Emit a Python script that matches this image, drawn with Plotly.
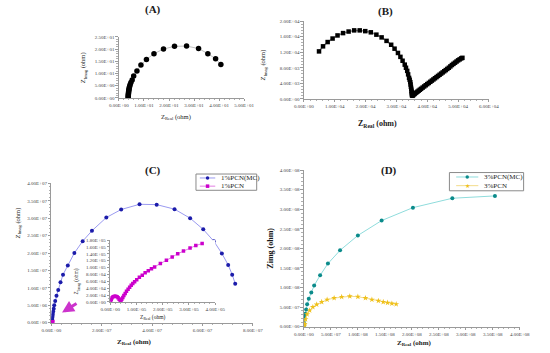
import plotly.graph_objects as go

# ---------------- data ----------------
# Panel A
a_x = [3.7, 3.72, 3.75, 3.78, 3.8, 3.85, 3.9, 3.95, 4.05, 4.15, 4.3, 4.5, 4.8,
       5.3, 5.9, 7.2, 8.8, 11.0, 14.0, 17.8, 22.2, 27.0, 31.8, 35.5, 38.6, 40.7]
a_y = [0.1, 0.5, 0.9, 1.3, 1.7, 2.1, 2.6, 3.1, 3.6, 4.2, 4.8, 5.5, 6.3,
       7.3, 9.0, 11.0, 13.5, 15.7, 18.1, 20.0, 21.1, 21.2, 20.2, 18.1, 16.0, 13.7]

# Panel B
b_x = [4900, 6200, 7700, 9300, 10900, 12700, 14500, 16300, 18100, 19900, 21700, 23500,
       25200, 26800, 28300, 29400, 30500, 31300, 32000, 32700, 33100, 33500, 33800, 34100,
       34300, 34500, 34600, 34700, 34800, 34900, 34950, 35000, 35050, 35200,
       35400, 35700, 36000, 36400, 36800, 37200, 37600, 38000, 38500, 39000, 39500, 40000,
       40500, 41000, 41500, 42000, 42500, 43000, 43500, 44000, 44500, 45000, 45500, 46000,
       46500, 47000, 47500, 48000, 48500, 49000, 49500, 50000, 50500, 51000, 51400]
b_y = [12200, 13500, 14600, 15500, 16300, 16900, 17300, 17600, 17600, 17400, 17100, 16500,
       15800, 14900, 13900, 12900, 11800, 10800, 9800, 8800, 8000, 7200, 6300, 5400,
       4900, 4300, 3700, 3100, 2600, 2100, 1700, 1200, 900, 800,
       950, 1150, 1350, 1600, 1850, 2100, 2350, 2600, 2900, 3200, 3500, 3800,
       4100, 4400, 4700, 5000, 5300, 5600, 5900, 6200, 6500, 6800, 7100, 7400,
       7700, 8000, 8350, 8700, 9000, 9300, 9600, 9900, 10150, 10400, 10550]

# Panel C : 1%PCN(MC)  (x in 1E7 ohm, y in 1E6 ohm)
c_mc_x = [0.007, 0.012, 0.018, 0.025, 0.035, 0.045, 0.055, 0.07, 0.09, 0.11, 0.15, 0.20,
          0.27, 0.36, 0.46, 0.65, 0.91, 1.24, 1.61, 2.18, 2.77, 3.50, 4.18, 4.89, 5.51,
          6.03, 6.45, 6.77, 7.02, 7.18, 7.30]
c_mc_y = [0.2, 0.4, 0.7, 1.0, 1.4, 1.9, 2.5, 3.2, 4.0, 5.0, 6.2, 7.7,
          9.4, 11.6, 13.8, 16.4, 20.0, 23.4, 26.4, 30.2, 32.5, 34.0, 33.9, 32.6, 30.0,
          26.8, 23.4, 19.9, 16.6, 13.8, 11.2]
# Panel C : 1%PCN  (x in 1E5 ohm, y in 1E4 ohm)
c_pcn_x = [0.02, 0.04, 0.07, 0.11, 0.16, 0.21, 0.26, 0.30, 0.34, 0.38, 0.41,
           0.44, 0.48, 0.52, 0.57, 0.62, 0.68, 0.74, 0.80, 0.86, 0.93, 1.01, 1.11, 1.22,
           1.33, 1.45, 1.57, 1.69, 1.91, 2.14, 2.36, 2.57, 2.79, 3.04, 3.26, 3.50]
c_pcn_y = [0.5, 0.8, 1.2, 1.5, 1.7, 1.7, 1.5, 1.2, 0.8, 0.5, 0.5,
           0.8, 1.3, 1.9, 2.5, 3.1, 3.7, 4.3, 4.9, 5.4, 5.9, 6.5, 7.2, 7.8,
           8.5, 9.1, 9.7, 10.2, 11.2, 12.1, 13.1, 14.0, 14.8, 15.7, 16.4, 17.0]

# Panel D (x, y in 1E8 ohm)
d_mc_x = [0.002, 0.005, 0.008, 0.015, 0.025, 0.042, 0.06, 0.09, 0.137, 0.19, 0.30, 0.445,
          0.67, 1.0, 1.44, 2.02, 2.75, 3.54]
d_mc_y = [0.03, 0.08, 0.15, 0.25, 0.33, 0.44, 0.57, 0.71, 0.87, 1.05, 1.31, 1.61,
          1.95, 2.33, 2.71, 3.04, 3.28, 3.34]
d_pcn_x = [0.002, 0.006, 0.012, 0.03, 0.059, 0.107, 0.166, 0.237, 0.33, 0.43, 0.56, 0.70,
           0.85, 1.0, 1.14, 1.26, 1.38, 1.47, 1.55, 1.63, 1.71]
d_pcn_y = [0.01, 0.03, 0.065, 0.19, 0.315, 0.415, 0.50, 0.565, 0.63, 0.69, 0.73, 0.76,
           0.775, 0.765, 0.73, 0.69, 0.66, 0.63, 0.61, 0.59, 0.575]

series_names_c = ["1%PCN(MC)", "1%PCN"]
series_names_d = ["3%PCN(MC)", "3%PCN"]

# tick labels
a_xticks = ["0.00E+00", "1.00E+01", "2.00E+01", "3.00E+01", "4.00E+01", "5.00E+01"]
a_yticks = ["0.00E+00", "5.00E+00", "1.00E+01", "1.50E+01", "2.00E+01", "2.50E+01"]
b_xticks = ["0.00E+00", "1.00E+04", "2.00E+04", "3.00E+04", "4.00E+04", "5.00E+04", "6.00E+04"]
b_yticks = ["0.00E+00", "4.00E+03", "8.00E+03", "1.20E+04", "1.60E+04", "2.00E+04"]
c_xticks = ["0.00E+00", "2.00E+07", "4.00E+07", "6.00E+07", "8.00E+07"]
c_yticks = ["0.00E+00", "5.00E+06", "1.00E+07", "1.50E+07", "2.00E+07", "2.50E+07",
            "3.00E+07", "3.50E+07", "4.00E+07"]
ci_xticks = ["0.00E+00", "1.00E+05", "2.00E+05", "3.00E+05", "4.00E+05"]
ci_yticks = ["0.00E+00", "2.00E+04", "4.00E+04", "6.00E+04", "8.00E+04", "1.00E+05",
             "1.20E+05", "1.40E+05", "1.60E+05", "1.80E+05"]
d_xticks = ["0.00E+00", "5.00E+07", "1.00E+08", "1.50E+08", "2.00E+08", "2.50E+08",
            "3.00E+08", "3.50E+08", "4.00E+08"]
d_yticks = ["0.00E+00", "5.00E+07", "1.00E+08", "1.50E+08", "2.00E+08", "2.50E+08",
            "3.00E+08", "3.50E+08", "4.00E+08"]

# colours
C_MC_MARK, C_MC_LINE = "#1c1caa", "#9a9af0"
C_P_MARK, C_P_LINE = "#cc00cc", "#e27fe2"
D_MC_MARK, D_MC_LINE = "#0b8b8b", "#8fdcdc"
D_P_MARK, D_P_LINE = "#efc01a", "#f3dc8a"

# ---------------- figure ----------------
W, H = 550, 353
SERIF = "Liberation Serif"


def px(x):
    return x / W


def py(y):
    return 1 - y / H


fig = go.Figure()

fig.add_trace(go.Scatter(x=a_x, y=a_y, mode="lines+markers", xaxis="x", yaxis="y",
                         line=dict(color="#b0b0b0", width=0.8),
                         marker=dict(symbol="circle", size=5.5, color="black")))
fig.add_trace(go.Scatter(x=b_x, y=b_y, mode="lines+markers", xaxis="x2", yaxis="y2",
                         line=dict(color="#808080", width=1.5),
                         marker=dict(symbol="square", size=4.5, color="black")))
fig.add_trace(go.Scatter(x=[v * 1e7 for v in c_mc_x], y=[v * 1e6 for v in c_mc_y],
                         mode="lines+markers", xaxis="x3", yaxis="y3", name=series_names_c[0],
                         line=dict(color=C_MC_LINE, width=1),
                         marker=dict(symbol="circle", size=4, color=C_MC_MARK)))
fig.add_trace(go.Scatter(x=[v * 1e5 for v in c_pcn_x], y=[v * 1e4 for v in c_pcn_y],
                         mode="lines+markers", xaxis="x3", yaxis="y3", name=series_names_c[1],
                         line=dict(color=C_P_LINE, width=1),
                         marker=dict(symbol="square", size=4, color=C_P_MARK)))
fig.add_trace(go.Scatter(x=[v * 1e5 for v in c_pcn_x], y=[v * 1e4 for v in c_pcn_y],
                         mode="lines+markers", xaxis="x4", yaxis="y4",
                         line=dict(color=C_P_LINE, width=1),
                         marker=dict(symbol="square", size=3.5, color=C_P_MARK)))
fig.add_trace(go.Scatter(x=[v * 1e8 for v in d_mc_x], y=[v * 1e8 for v in d_mc_y],
                         mode="lines+markers", xaxis="x5", yaxis="y5", name=series_names_d[0],
                         line=dict(color=D_MC_LINE, width=1),
                         marker=dict(symbol="circle", size=4, color=D_MC_MARK)))
fig.add_trace(go.Scatter(x=[v * 1e8 for v in d_pcn_x], y=[v * 1e8 for v in d_pcn_y],
                         mode="lines+markers", xaxis="x5", yaxis="y5", name=series_names_d[1],
                         line=dict(color=D_P_LINE, width=1),
                         marker=dict(symbol="star", size=4.5, color=D_P_MARK)))


def axis(domain, rng, vals, texts, anchor, minor_dtick):
    return dict(domain=domain, range=rng, anchor=anchor, tickmode="array",
                tickvals=vals, ticktext=texts, showgrid=False, zeroline=False,
                showline=True, linecolor="#9a9a9a", linewidth=1,
                ticks="outside", ticklen=2.5, tickcolor="#9a9a9a", tickwidth=1,
                minor=dict(dtick=minor_dtick, ticks="outside", ticklen=1.5,
                           tickcolor="#b0b0b0", showgrid=False),
                tickfont=dict(family=SERIF, size=5, color="#444444"),
                fixedrange=True)


lay = {}
lay["xaxis"] = axis([px(113), px(243)], [0, 50], [0, 10, 20, 30, 40, 50], a_xticks, "y", 2)
lay["yaxis"] = axis([py(97.3), py(35.3)], [0, 25], [0, 5, 10, 15, 20, 25], a_yticks, "x", 1)
lay["xaxis2"] = axis([px(305), px(497)], [0, 60000], [i * 10000 for i in range(7)], b_xticks, "y2", 2000)
lay["yaxis2"] = axis([py(98.3), py(19.3)], [0, 20000], [i * 4000 for i in range(6)], b_yticks, "x2", 800)
lay["xaxis3"] = axis([px(43), px(252)], [0, 8e7], [i * 2e7 for i in range(5)], c_xticks, "y3", 4e6)
lay["yaxis3"] = axis([py(325.3), py(184)], [0, 4e7], [i * 5e6 for i in range(9)], c_yticks, "x3", 1e6)
lay["xaxis4"] = axis([px(104), px(213)], [0, 4e5], [i * 1e5 for i in range(5)], ci_xticks, "y4", 2e4)
lay["yaxis4"] = axis([py(304.3), py(241.5)], [0, 1.8e5], [i * 2e4 for i in range(10)], ci_yticks, "x4", 1e4)
lay["xaxis5"] = axis([px(305), px(529)], [0, 4e8], [i * 5e7 for i in range(9)], d_xticks, "y5", 1e7)
lay["yaxis5"] = axis([py(329.3), py(170.5)], [0, 4e8], [i * 5e7 for i in range(9)], d_yticks, "x5", 1e7)

fig.update_layout(**lay)
fig.update_layout(width=W, height=H, margin=dict(l=0, r=0, t=0, b=0),
                  paper_bgcolor="white", plot_bgcolor="white", showlegend=False,
                  hovermode=False)

ann = []
shapes = []


def text(x, y, s, size, bold=False, angle=0, anchor="center", color="#1a1a1a", family=SERIF):
    ann.append(dict(x=px(x), y=py(y), xref="paper", yref="paper",
                    text=("<b>%s</b>" % s) if bold else s,
                    showarrow=False, textangle=angle, xanchor=anchor, yanchor="middle",
                    font=dict(family=family, size=size, color=color)))


text(148.5, 8, "(A)", 11, True)
text(389.5, 10, "(B)", 11, True)
text(148, 170.5, "(C)", 11, True)
text(393, 171, "(D)", 11, True)

text(172, 116.5, "Z<sub>Real</sub> (ohm)", 6.5)
text(76, 67, "Z<sub>Imag</sub> (ohm)", 6.5, angle=-90)
text(381, 123.5, "Z<sub>Real</sub> (ohm)", 8, True)
text(263, 64, "Z<sub>Imag</sub> (ohm)", 6.5, angle=-90)
text(129, 345, "Z<sub>Real</sub> (ohm)", 7, True)
text(8, 224, "Z<sub>Imag</sub> (ohm)", 6.5, angle=-90)
text(148, 320, "Z<sub>Real</sub> (ohm)", 5.5)
text(70, 283, "Z<sub>Imag</sub> (ohm)", 5.5, angle=-90)
text(419, 345.5, "Z<sub>Real</sub> (ohm)", 7, True)
text(270, 250, "Zimg (ohm)", 8, True, angle=-90)

# magenta arrow pointing at the origin of panel C
ann.append(dict(x=px(54), y=py(315), xref="paper", yref="paper", ax=16, ay=-10,
                showarrow=True, arrowhead=2, arrowsize=0.8, arrowwidth=3,
                arrowcolor="#cc33cc", text=""))


# ---- compact legends (drawn as keys) ----
def legend_box(x0, y0, x1, y1):
    shapes.append(dict(type="rect", xref="paper", yref="paper", x0=px(x0), x1=px(x1),
                       y0=py(y1), y1=py(y0), line=dict(color="#8a8a8a", width=1),
                       fillcolor="white", layer="above"))


def legend_key(xl0, xl1, y, line_color, mark_color, symbol, label):
    shapes.append(dict(type="line", xref="paper", yref="paper", x0=px(xl0), x1=px(xl1),
                       y0=py(y), y1=py(y), line=dict(color=line_color, width=1), layer="above"))
    xm = (xl0 + xl1) / 2
    r = 1.8
    if symbol == "circle":
        shapes.append(dict(type="circle", xref="paper", yref="paper", x0=px(xm - r), x1=px(xm + r),
                           y0=py(y + r), y1=py(y - r), fillcolor=mark_color,
                           line=dict(color=mark_color, width=0), layer="above"))
    elif symbol == "square":
        shapes.append(dict(type="rect", xref="paper", yref="paper", x0=px(xm - r), x1=px(xm + r),
                           y0=py(y + r), y1=py(y - r), fillcolor=mark_color,
                           line=dict(color=mark_color, width=0), layer="above"))
    else:
        text(xm, y, "★", 6, color=mark_color, family="DejaVu Sans")
    text(xl1 + 3.5, y + 0.3, label, 7, anchor="left", color="#222222")


legend_box(193, 174.5, 256, 191)
legend_key(197, 213, 178.5, C_MC_LINE, C_MC_MARK, "circle", series_names_c[0])
legend_key(197, 213, 186.8, C_P_LINE, C_P_MARK, "square", series_names_c[1])

legend_box(456, 173, 533, 191.5)
legend_key(463, 486, 177.5, D_MC_LINE, D_MC_MARK, "circle", series_names_d[0])
legend_key(463, 486, 186.3, D_P_LINE, D_P_MARK, "star", series_names_d[1])

fig.update_layout(annotations=ann, shapes=shapes)

# the page body has a default 8px margin; remove it so the figure fills the window
fig.write_html("out.html", config={"displayModeBar": False, "staticPlot": True},
               post_script="document.body.style.margin='0px';document.body.style.overflow='hidden';")
